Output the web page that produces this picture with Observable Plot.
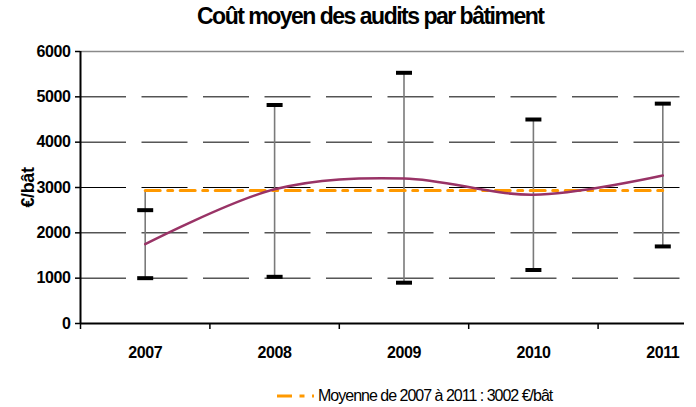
<!DOCTYPE html>
<html>
<head>
<meta charset="utf-8">
<script src="https://cdn.jsdelivr.net/npm/d3@7"></script>
<script src="https://cdn.jsdelivr.net/npm/@observablehq/plot@0.6"></script>
<style>
  html, body { margin: 0; padding: 0; background: #fff; }
  #wrap { position: relative; width: 696px; height: 407px; overflow: hidden; font-family: "Liberation Sans", Arial, sans-serif; }
  #title { position: absolute; left: 197px; top: 3px; font-size: 23px; font-weight: bold; letter-spacing: -1.5px; white-space: nowrap; color: #000; }
  #legend { position: absolute; left: 277px; top: 386px; height: 20px; display: flex; align-items: center; white-space: nowrap; }
  #legend span { font-size: 16px; letter-spacing: -1px; margin-left: 4px; color: #000; }
  #chart { position: absolute; left: 0; top: 0; }
  #chart svg { overflow: hidden; }
</style>
</head>
<body>
<div id="wrap">
  <div id="chart"></div>
  <div id="title">Coût moyen des audits par bâtiment</div>
  <div id="legend">
    <svg width="37" height="6"><line x1="0" x2="37" y1="3" y2="3" stroke="#FF9900" stroke-width="3" stroke-dasharray="15,7.5,5,7.5"></line></svg>
    <span>Moyenne de 2007 à 2011 : 3002 €/bât</span>
  </div>
</div>
<script>
const years = [2007, 2008, 2009, 2010, 2011];
const minVals = [1000, 1030, 900, 1180, 1700];
const maxVals = [2500, 4820, 5530, 4500, 4850];
const meanVals = [1750, 2960, 3200, 2840, 3265];
const avgDrawn = 2935;
const yTicks = [0, 1000, 2000, 3000, 4000, 5000, 6000];
const gridVals = [1000, 2000, 3000, 4000, 5000];
const topVal = 6000;
const xDomain = [2006.5, 2011.5];
const boundaries = [2006.5, 2007.5, 2008.5, 2009.5, 2010.5];
const yLabel = "€/bât";

const rows = years.map((y, i) => ({
  year: y, min: minVals[i], max: maxVals[i], mean: meanVals[i], avg: avgDrawn,
  lo: Math.min(minVals[i], meanVals[i], avgDrawn),
  hi: Math.max(maxVals[i], meanVals[i], avgDrawn)
}));

const capSymbol = { draw(ctx, size) { ctx.rect(-8, -2, 16, 4); } };

const plot = Plot.plot({
  width: 684,
  height: 407,
  marginLeft: 80,
  marginRight: 0,
  marginTop: 51,
  marginBottom: 84,
  style: { fontFamily: "'Liberation Sans', Arial, sans-serif", background: "transparent", overflow: "hidden" },
  x: { type: "linear", domain: xDomain, range: [80, 727] },
  y: { domain: [0, 6000], range: [323, 51] },
  marks: [
    Plot.ruleY(gridVals, { stroke: "#000", strokeWidth: 1, strokeDasharray: "46,15.5" }),
    Plot.ruleY([topVal], { stroke: "#8a8a8a", strokeWidth: 1.5 }),
    Plot.ruleX(rows, { x: "year", y1: "lo", y2: "hi", stroke: "#7a7a7a", strokeWidth: 1.6 }),
    Plot.line(rows, { x: "year", y: "avg", stroke: "#FF9900", strokeWidth: 3, strokeDasharray: "15,7.5,5,7.5" }),
    Plot.line(rows, { x: "year", y: "mean", stroke: "#993366", strokeWidth: 2.5, curve: "cardinal", tension: 0 }),
    Plot.dot(rows, { x: "year", y: "max", symbol: capSymbol, fill: "#000", stroke: "none" }),
    Plot.dot(rows, { x: "year", y: "min", symbol: capSymbol, fill: "#000", stroke: "none" }),
    Plot.ruleX([xDomain[0]], { stroke: "#000", strokeWidth: 2 }),
    Plot.ruleY([0], { stroke: "#000", strokeWidth: 2 }),
    Plot.axisY({ ticks: yTicks, tickSize: 5, tickPadding: 5, tickFormat: d => String(d), fontSize: 16, fontWeight: "bold", stroke: "#000", strokeWidth: 1.5, label: null }),
    Plot.axisX({ ticks: boundaries, tickSize: 6, tickFormat: () => "", stroke: "#000", strokeWidth: 1.5, label: null }),
    Plot.axisX({ ticks: years, tickSize: 0, tickPadding: 23, tickFormat: d => String(d), fontSize: 16, fontWeight: "bold", label: null }),
    Plot.text([yLabel], { frameAnchor: "left", textAnchor: "middle", dx: -52, dy: 0, rotate: -90, fontSize: 18, fontWeight: "bold", text: d => d })
  ]
});
plot.querySelectorAll("text").forEach(t => t.style.letterSpacing = "-0.4px");
document.getElementById("chart").appendChild(plot);
</script>
</body>
</html>
